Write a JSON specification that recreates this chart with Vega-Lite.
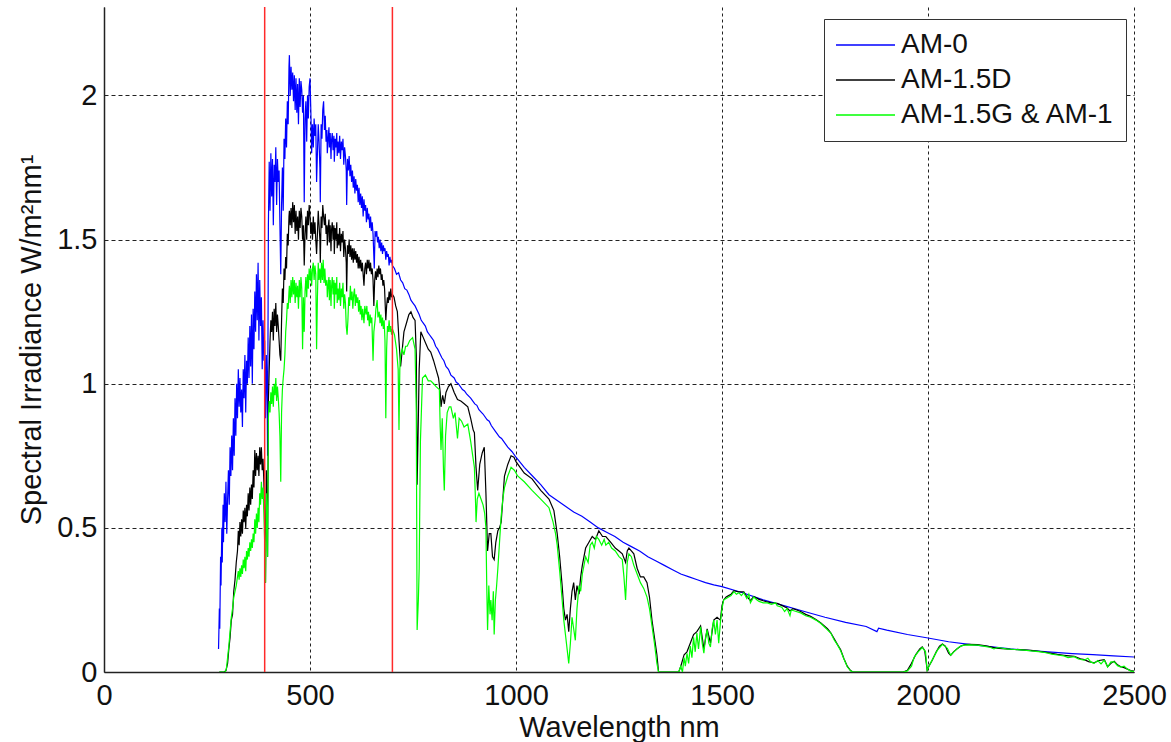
{
  "$schema": "https://vega.github.io/schema/vega-lite/v6.json",
  "width": 1030,
  "height": 665,
  "autosize": {"type": "none"},
  "padding": {"left": 104, "top": 7, "right": 37, "bottom": 70},
  "background": "white",
  "config": {"view": {"stroke": null}, "font": "Liberation Sans"},
  "encoding": {
    "x": {
      "field": "w", "type": "quantitative",
      "scale": {"domain": [0, 2500], "nice": false, "zero": false},
      "axis": {
        "values": [0, 500, 1000, 1500, 2000, 2500], "format": "d",
        "title": "Wavelength nm", "grid": true, "gridDash": [3, 3], "gridColor": "#222", "gridOpacity": 1, "gridWidth": 1,
        "domainColor": "#222", "domainWidth": 1.5, "ticks": false,
        "labelFontSize": 29, "labelPadding": 9, "labelColor": "#111", "labelFlush": false, "labelOverlap": false,
        "titleFontSize": 29, "titleFontWeight": "normal", "titlePadding": 3, "titleColor": "#111"
      }
    }
  },
  "layer": [
    {
      "data": {"values": [
{"s":"AM-0","w":278,"v":0.08},{"s":"AM-0","w":280,"v":0.22},{"s":"AM-0","w":281,"v":0.15},{"s":"AM-0","w":283,"v":0.40},{"s":"AM-0","w":284,"v":0.30},{"s":"AM-0","w":286,"v":0.50},{"s":"AM-0","w":287,"v":0.38},{"s":"AM-0","w":289,"v":0.58},{"s":"AM-0","w":290,"v":0.45},{"s":"AM-0","w":292,"v":0.62},{"s":"AM-0","w":294,"v":0.52},{"s":"AM-0","w":296,"v":0.66},{"s":"AM-0","w":298,"v":0.48},{"s":"AM-0","w":300,"v":0.60},{"s":"AM-0","w":302,"v":0.70},{"s":"AM-0","w":304,"v":0.58},{"s":"AM-0","w":306,"v":0.78},{"s":"AM-0","w":308,"v":0.68},{"s":"AM-0","w":310,"v":0.82},{"s":"AM-0","w":312,"v":0.70},{"s":"AM-0","w":314,"v":0.88},{"s":"AM-0","w":316,"v":0.75},{"s":"AM-0","w":318,"v":0.95},{"s":"AM-0","w":320,"v":0.82},{"s":"AM-0","w":322,"v":1.00},{"s":"AM-0","w":324,"v":0.88},{"s":"AM-0","w":326,"v":1.05},{"s":"AM-0","w":328,"v":0.92},{"s":"AM-0","w":330,"v":1.02},{"s":"AM-0","w":332,"v":0.90},{"s":"AM-0","w":334,"v":0.98},{"s":"AM-0","w":336,"v":0.85},{"s":"AM-0","w":338,"v":1.05},{"s":"AM-0","w":340,"v":0.95},{"s":"AM-0","w":342,"v":1.10},{"s":"AM-0","w":344,"v":0.90},{"s":"AM-0","w":346,"v":1.08},{"s":"AM-0","w":348,"v":1.00},{"s":"AM-0","w":350,"v":1.16},{"s":"AM-0","w":352,"v":1.02},{"s":"AM-0","w":354,"v":1.20},{"s":"AM-0","w":356,"v":1.06},{"s":"AM-0","w":358,"v":1.24},{"s":"AM-0","w":360,"v":1.00},{"s":"AM-0","w":362,"v":1.26},{"s":"AM-0","w":364,"v":1.12},{"s":"AM-0","w":366,"v":1.32},{"s":"AM-0","w":368,"v":1.18},{"s":"AM-0","w":370,"v":1.38},{"s":"AM-0","w":372,"v":1.22},{"s":"AM-0","w":374,"v":1.42},{"s":"AM-0","w":376,"v":1.15},{"s":"AM-0","w":378,"v":1.36},{"s":"AM-0","w":380,"v":1.20},{"s":"AM-0","w":382,"v":1.30},{"s":"AM-0","w":384,"v":1.05},{"s":"AM-0","w":386,"v":1.22},{"s":"AM-0","w":388,"v":1.08},{"s":"AM-0","w":390,"v":1.15},{"s":"AM-0","w":392,"v":0.88},{"s":"AM-0","w":394,"v":1.10},{"s":"AM-0","w":396,"v":0.95},{"s":"AM-0","w":397,"v":0.75},{"s":"AM-0","w":399,"v":1.55},{"s":"AM-0","w":401,"v":1.77},{"s":"AM-0","w":403,"v":1.60},{"s":"AM-0","w":405,"v":1.80},{"s":"AM-0","w":407,"v":1.65},{"s":"AM-0","w":409,"v":1.78},{"s":"AM-0","w":411,"v":1.55},{"s":"AM-0","w":413,"v":1.76},{"s":"AM-0","w":415,"v":1.70},{"s":"AM-0","w":417,"v":1.82},{"s":"AM-0","w":419,"v":1.62},{"s":"AM-0","w":421,"v":1.78},{"s":"AM-0","w":423,"v":1.70},{"s":"AM-0","w":425,"v":1.74},{"s":"AM-0","w":427,"v":1.55},{"s":"AM-0","w":429,"v":1.38},{"s":"AM-0","w":431,"v":1.62},{"s":"AM-0","w":433,"v":1.75},{"s":"AM-0","w":435,"v":1.60},{"s":"AM-0","w":437,"v":1.85},{"s":"AM-0","w":439,"v":1.78},{"s":"AM-0","w":441,"v":1.92},{"s":"AM-0","w":443,"v":1.82},{"s":"AM-0","w":445,"v":1.98},{"s":"AM-0","w":447,"v":1.90},{"s":"AM-0","w":449,"v":2.10},{"s":"AM-0","w":450,"v":2.14},{"s":"AM-0","w":452,"v":2.00},{"s":"AM-0","w":454,"v":2.10},{"s":"AM-0","w":456,"v":2.02},{"s":"AM-0","w":458,"v":2.08},{"s":"AM-0","w":460,"v":1.98},{"s":"AM-0","w":462,"v":2.07},{"s":"AM-0","w":464,"v":1.95},{"s":"AM-0","w":466,"v":2.06},{"s":"AM-0","w":468,"v":1.94},{"s":"AM-0","w":470,"v":2.04},{"s":"AM-0","w":472,"v":1.90},{"s":"AM-0","w":474,"v":2.06},{"s":"AM-0","w":476,"v":1.96},{"s":"AM-0","w":478,"v":2.05},{"s":"AM-0","w":480,"v":2.02},{"s":"AM-0","w":482,"v":1.94},{"s":"AM-0","w":484,"v":2.00},{"s":"AM-0","w":486,"v":1.63},{"s":"AM-0","w":488,"v":1.92},{"s":"AM-0","w":490,"v":1.98},{"s":"AM-0","w":492,"v":1.84},{"s":"AM-0","w":494,"v":2.00},{"s":"AM-0","w":496,"v":1.92},{"s":"AM-0","w":498,"v":2.03},{"s":"AM-0","w":500,"v":2.06},{"s":"AM-0","w":502,"v":1.95},{"s":"AM-0","w":504,"v":1.80},{"s":"AM-0","w":506,"v":1.90},{"s":"AM-0","w":508,"v":1.82},{"s":"AM-0","w":510,"v":1.92},{"s":"AM-0","w":512,"v":1.86},{"s":"AM-0","w":514,"v":1.90},{"s":"AM-0","w":516,"v":1.70},{"s":"AM-0","w":518,"v":1.80},{"s":"AM-0","w":520,"v":1.90},{"s":"AM-0","w":522,"v":1.84},{"s":"AM-0","w":524,"v":1.75},{"s":"AM-0","w":525,"v":1.63},{"s":"AM-0","w":527,"v":1.90},{"s":"AM-0","w":529,"v":1.85},{"s":"AM-0","w":531,"v":1.95},{"s":"AM-0","w":533,"v":1.98},{"s":"AM-0","w":535,"v":1.88},{"s":"AM-0","w":537,"v":1.93},{"s":"AM-0","w":539,"v":1.84},
{"s":"AM-0","w":541,"v":1.88},{"s":"AM-0","w":542,"v":1.80},{"s":"AM-0","w":544,"v":1.85},{"s":"AM-0","w":546,"v":1.89},{"s":"AM-0","w":547,"v":1.82},{"s":"AM-0","w":549,"v":1.87},{"s":"AM-0","w":551,"v":1.78},{"s":"AM-0","w":552,"v":1.84},{"s":"AM-0","w":554,"v":1.87},{"s":"AM-0","w":556,"v":1.81},{"s":"AM-0","w":558,"v":1.86},{"s":"AM-0","w":559,"v":1.77},{"s":"AM-0","w":561,"v":1.85},{"s":"AM-0","w":563,"v":1.82},{"s":"AM-0","w":565,"v":1.87},{"s":"AM-0","w":566,"v":1.79},{"s":"AM-0","w":568,"v":1.84},{"s":"AM-0","w":570,"v":1.80},{"s":"AM-0","w":572,"v":1.86},{"s":"AM-0","w":574,"v":1.78},{"s":"AM-0","w":576,"v":1.84},{"s":"AM-0","w":578,"v":1.81},{"s":"AM-0","w":580,"v":1.85},{"s":"AM-0","w":582,"v":1.76},{"s":"AM-0","w":584,"v":1.82},{"s":"AM-0","w":586,"v":1.79},{"s":"AM-0","w":588,"v":1.74},{"s":"AM-0","w":589,"v":1.62},{"s":"AM-0","w":591,"v":1.78},{"s":"AM-0","w":593,"v":1.74},{"s":"AM-0","w":595,"v":1.79},{"s":"AM-0","w":597,"v":1.72},{"s":"AM-0","w":599,"v":1.76},{"s":"AM-0","w":601,"v":1.70},{"s":"AM-0","w":603,"v":1.74},{"s":"AM-0","w":605,"v":1.68},{"s":"AM-0","w":607,"v":1.72},{"s":"AM-0","w":609,"v":1.66},{"s":"AM-0","w":611,"v":1.71},{"s":"AM-0","w":613,"v":1.67},{"s":"AM-0","w":615,"v":1.69},{"s":"AM-0","w":617,"v":1.63},{"s":"AM-0","w":619,"v":1.68},{"s":"AM-0","w":621,"v":1.62},{"s":"AM-0","w":623,"v":1.66},{"s":"AM-0","w":625,"v":1.61},{"s":"AM-0","w":627,"v":1.65},{"s":"AM-0","w":629,"v":1.58},{"s":"AM-0","w":631,"v":1.64},{"s":"AM-0","w":633,"v":1.60},{"s":"AM-0","w":635,"v":1.62},{"s":"AM-0","w":637,"v":1.56},{"s":"AM-0","w":639,"v":1.61},{"s":"AM-0","w":641,"v":1.57},{"s":"AM-0","w":643,"v":1.59},{"s":"AM-0","w":645,"v":1.54},{"s":"AM-0","w":647,"v":1.58},{"s":"AM-0","w":649,"v":1.53},{"s":"AM-0","w":651,"v":1.56},{"s":"AM-0","w":653,"v":1.52},{"s":"AM-0","w":656,"v":1.40},{"s":"AM-0","w":658,"v":1.53},{"s":"AM-0","w":660,"v":1.51},{"s":"AM-0","w":662,"v":1.53},{"s":"AM-0","w":664,"v":1.49},{"s":"AM-0","w":666,"v":1.51},{"s":"AM-0","w":668,"v":1.47},{"s":"AM-0","w":670,"v":1.50},{"s":"AM-0","w":672,"v":1.46},{"s":"AM-0","w":674,"v":1.49},{"s":"AM-0","w":676,"v":1.45},{"s":"AM-0","w":678,"v":1.48},{"s":"AM-0","w":680,"v":1.46},{"s":"AM-0","w":682,"v":1.47},{"s":"AM-0","w":684,"v":1.43},{"s":"AM-0","w":686,"v":1.46},{"s":"AM-0","w":688,"v":1.44},{"s":"AM-0","w":690,"v":1.45},{"s":"AM-0","w":692,"v":1.41},{"s":"AM-0","w":694,"v":1.44},{"s":"AM-0","w":696,"v":1.42},{"s":"AM-0","w":698,"v":1.43},{"s":"AM-0","w":700,"v":1.41},{"s":"AM-0","w":705,"v":1.40},{"s":"AM-0","w":710,"v":1.38},{"s":"AM-0","w":715,"v":1.385},{"s":"AM-0","w":720,"v":1.36},{"s":"AM-0","w":725,"v":1.35},{"s":"AM-0","w":730,"v":1.33},{"s":"AM-0","w":735,"v":1.325},{"s":"AM-0","w":740,"v":1.31},{"s":"AM-0","w":745,"v":1.29},{"s":"AM-0","w":750,"v":1.28},{"s":"AM-0","w":755,"v":1.27},{"s":"AM-0","w":760,"v":1.255},{"s":"AM-0","w":765,"v":1.24},{"s":"AM-0","w":770,"v":1.22},{"s":"AM-0","w":775,"v":1.21},{"s":"AM-0","w":780,"v":1.20},{"s":"AM-0","w":785,"v":1.18},{"s":"AM-0","w":790,"v":1.17},{"s":"AM-0","w":795,"v":1.16},{"s":"AM-0","w":800,"v":1.15},{"s":"AM-0","w":805,"v":1.13},{"s":"AM-0","w":810,"v":1.12},{"s":"AM-0","w":815,"v":1.105},{"s":"AM-0","w":820,"v":1.09},{"s":"AM-0","w":825,"v":1.08},{"s":"AM-0","w":830,"v":1.06},{"s":"AM-0","w":836,"v":1.05},{"s":"AM-0","w":842,"v":1.03},{"s":"AM-0","w":850,"v":1.02},{"s":"AM-0","w":855,"v":1.005},{"s":"AM-0","w":860,"v":1.00},{"s":"AM-0","w":870,"v":0.98},{"s":"AM-0","w":875,"v":0.975},{"s":"AM-0","w":880,"v":0.965},{"s":"AM-0","w":890,"v":0.95},{"s":"AM-0","w":900,"v":0.93},{"s":"AM-0","w":905,"v":0.925},{"s":"AM-0","w":910,"v":0.91},{"s":"AM-0","w":920,"v":0.895},{"s":"AM-0","w":930,"v":0.875},{"s":"AM-0","w":935,"v":0.87},{"s":"AM-0","w":940,"v":0.855},{"s":"AM-0","w":950,"v":0.835},{"s":"AM-0","w":960,"v":0.815},{"s":"AM-0","w":965,"v":0.81},{"s":"AM-0","w":970,"v":0.80},{"s":"AM-0","w":980,"v":0.78},{"s":"AM-0","w":990,"v":0.765},{"s":"AM-0","w":1000,"v":0.745},{"s":"AM-0","w":1020,"v":0.71},{"s":"AM-0","w":1040,"v":0.68},{"s":"AM-0","w":1060,"v":0.65},{"s":"AM-0","w":1080,"v":0.615},{"s":"AM-0","w":1100,"v":0.595},{"s":"AM-0","w":1120,"v":0.575},{"s":"AM-0","w":1140,"v":0.555},{"s":"AM-0","w":1160,"v":0.54},{"s":"AM-0","w":1180,"v":0.52},{"s":"AM-0","w":1200,"v":0.50},{"s":"AM-0","w":1220,"v":0.485},{"s":"AM-0","w":1240,"v":0.47},{"s":"AM-0","w":1260,"v":0.45},{"s":"AM-0","w":1280,"v":0.435},{"s":"AM-0","w":1300,"v":0.42},{"s":"AM-0","w":1320,"v":0.40},{"s":"AM-0","w":1340,"v":0.385},{"s":"AM-0","w":1360,"v":0.37},{"s":"AM-0","w":1380,"v":0.355},{"s":"AM-0","w":1400,"v":0.34},{"s":"AM-0","w":1420,"v":0.33},{"s":"AM-0","w":1440,"v":0.32},{"s":"AM-0","w":1460,"v":0.31},{"s":"AM-0","w":1480,"v":0.302},{"s":"AM-0","w":1500,"v":0.296},{"s":"AM-0","w":1550,"v":0.275},{"s":"AM-0","w":1600,"v":0.25},{"s":"AM-0","w":1650,"v":0.23},{"s":"AM-0","w":1700,"v":0.21},{"s":"AM-0","w":1750,"v":0.19},{"s":"AM-0","w":1800,"v":0.172},{"s":"AM-0","w":1850,"v":0.158},{"s":"AM-0","w":1876,"v":0.14},{"s":"AM-0","w":1880,"v":0.152},{"s":"AM-0","w":1900,"v":0.145},{"s":"AM-0","w":1950,"v":0.13},{"s":"AM-0","w":2000,"v":0.118},{"s":"AM-0","w":2050,"v":0.105},{"s":"AM-0","w":2100,"v":0.096},{"s":"AM-0","w":2150,"v":0.088},{"s":"AM-0","w":2200,"v":0.08},{"s":"AM-0","w":2250,"v":0.074},{"s":"AM-0","w":2300,"v":0.069},{"s":"AM-0","w":2350,"v":0.064},{"s":"AM-0","w":2400,"v":0.06},{"s":"AM-0","w":2450,"v":0.056},{"s":"AM-0","w":2500,"v":0.052},
{"s":"AM-1.5D","w":280,"v":0},{"s":"AM-1.5D","w":292,"v":0},{"s":"AM-1.5D","w":296,"v":0.005},{"s":"AM-1.5D","w":300,"v":0.03},{"s":"AM-1.5D","w":303,"v":0.08},{"s":"AM-1.5D","w":306,"v":0.12},{"s":"AM-1.5D","w":309,"v":0.18},{"s":"AM-1.5D","w":312,"v":0.20},{"s":"AM-1.5D","w":315,"v":0.28},{"s":"AM-1.5D","w":318,"v":0.32},{"s":"AM-1.5D","w":321,"v":0.38},{"s":"AM-1.5D","w":324,"v":0.42},{"s":"AM-1.5D","w":326,"v":0.49},{"s":"AM-1.5D","w":328,"v":0.44},{"s":"AM-1.5D","w":330,"v":0.52},{"s":"AM-1.5D","w":332,"v":0.47},{"s":"AM-1.5D","w":334,"v":0.53},{"s":"AM-1.5D","w":336,"v":0.48},{"s":"AM-1.5D","w":338,"v":0.56},{"s":"AM-1.5D","w":340,"v":0.52},{"s":"AM-1.5D","w":342,"v":0.57},{"s":"AM-1.5D","w":344,"v":0.50},{"s":"AM-1.5D","w":346,"v":0.58},{"s":"AM-1.5D","w":348,"v":0.54},{"s":"AM-1.5D","w":350,"v":0.62},{"s":"AM-1.5D","w":352,"v":0.56},{"s":"AM-1.5D","w":354,"v":0.64},{"s":"AM-1.5D","w":356,"v":0.58},{"s":"AM-1.5D","w":358,"v":0.65},{"s":"AM-1.5D","w":360,"v":0.60},{"s":"AM-1.5D","w":362,"v":0.70},{"s":"AM-1.5D","w":364,"v":0.64},{"s":"AM-1.5D","w":366,"v":0.77},{"s":"AM-1.5D","w":368,"v":0.68},{"s":"AM-1.5D","w":370,"v":0.76},{"s":"AM-1.5D","w":372,"v":0.70},{"s":"AM-1.5D","w":374,"v":0.75},{"s":"AM-1.5D","w":376,"v":0.68},{"s":"AM-1.5D","w":378,"v":0.78},{"s":"AM-1.5D","w":380,"v":0.72},{"s":"AM-1.5D","w":382,"v":0.78},{"s":"AM-1.5D","w":384,"v":0.70},{"s":"AM-1.5D","w":386,"v":0.74},{"s":"AM-1.5D","w":388,"v":0.66},{"s":"AM-1.5D","w":390,"v":0.55},{"s":"AM-1.5D","w":392,"v":0.31},{"s":"AM-1.5D","w":394,"v":0.70},{"s":"AM-1.5D","w":396,"v":0.55},{"s":"AM-1.5D","w":397,"v":0.40},{"s":"AM-1.5D","w":399,"v":0.94},{"s":"AM-1.5D","w":401,"v":1.05},{"s":"AM-1.5D","w":403,"v":1.15},{"s":"AM-1.5D","w":405,"v":1.22},{"s":"AM-1.5D","w":407,"v":1.18},{"s":"AM-1.5D","w":409,"v":1.25},{"s":"AM-1.5D","w":411,"v":1.15},{"s":"AM-1.5D","w":413,"v":1.26},{"s":"AM-1.5D","w":415,"v":1.20},{"s":"AM-1.5D","w":417,"v":1.28},{"s":"AM-1.5D","w":419,"v":1.18},{"s":"AM-1.5D","w":421,"v":1.24},{"s":"AM-1.5D","w":423,"v":1.20},{"s":"AM-1.5D","w":425,"v":1.15},{"s":"AM-1.5D","w":427,"v":1.10},{"s":"AM-1.5D","w":429,"v":1.08},{"s":"AM-1.5D","w":431,"v":1.22},{"s":"AM-1.5D","w":433,"v":1.33},{"s":"AM-1.5D","w":435,"v":1.28},{"s":"AM-1.5D","w":437,"v":1.40},{"s":"AM-1.5D","w":439,"v":1.36},{"s":"AM-1.5D","w":441,"v":1.44},{"s":"AM-1.5D","w":443,"v":1.40},{"s":"AM-1.5D","w":445,"v":1.52},{"s":"AM-1.5D","w":447,"v":1.48},{"s":"AM-1.5D","w":449,"v":1.58},{"s":"AM-1.5D","w":450,"v":1.60},{"s":"AM-1.5D","w":452,"v":1.55},{"s":"AM-1.5D","w":454,"v":1.61},{"s":"AM-1.5D","w":456,"v":1.54},{"s":"AM-1.5D","w":458,"v":1.63},{"s":"AM-1.5D","w":460,"v":1.56},{"s":"AM-1.5D","w":462,"v":1.62},{"s":"AM-1.5D","w":464,"v":1.52},{"s":"AM-1.5D","w":466,"v":1.60},{"s":"AM-1.5D","w":468,"v":1.53},{"s":"AM-1.5D","w":470,"v":1.58},{"s":"AM-1.5D","w":472,"v":1.50},{"s":"AM-1.5D","w":474,"v":1.60},{"s":"AM-1.5D","w":476,"v":1.54},{"s":"AM-1.5D","w":478,"v":1.61},{"s":"AM-1.5D","w":480,"v":1.58},{"s":"AM-1.5D","w":482,"v":1.50},{"s":"AM-1.5D","w":484,"v":1.55},{"s":"AM-1.5D","w":486,"v":1.41},{"s":"AM-1.5D","w":488,"v":1.52},{"s":"AM-1.5D","w":490,"v":1.58},{"s":"AM-1.5D","w":492,"v":1.50},{"s":"AM-1.5D","w":494,"v":1.60},{"s":"AM-1.5D","w":496,"v":1.55},{"s":"AM-1.5D","w":498,"v":1.62},{"s":"AM-1.5D","w":500,"v":1.58},{"s":"AM-1.5D","w":502,"v":1.52},{"s":"AM-1.5D","w":504,"v":1.56},{"s":"AM-1.5D","w":506,"v":1.50},{"s":"AM-1.5D","w":508,"v":1.58},{"s":"AM-1.5D","w":510,"v":1.52},{"s":"AM-1.5D","w":512,"v":1.56},{"s":"AM-1.5D","w":514,"v":1.50},{"s":"AM-1.5D","w":516,"v":1.45},{"s":"AM-1.5D","w":518,"v":1.52},{"s":"AM-1.5D","w":520,"v":1.60},{"s":"AM-1.5D","w":522,"v":1.55},{"s":"AM-1.5D","w":524,"v":1.50},{"s":"AM-1.5D","w":525,"v":1.42},{"s":"AM-1.5D","w":527,"v":1.58},{"s":"AM-1.5D","w":529,"v":1.54},{"s":"AM-1.5D","w":531,"v":1.62},{"s":"AM-1.5D","w":533,"v":1.58},{"s":"AM-1.5D","w":535,"v":1.55},{"s":"AM-1.5D","w":537,"v":1.59},{"s":"AM-1.5D","w":539,"v":1.52},
{"s":"AM-1.5D","w":541,"v":1.55},{"s":"AM-1.5D","w":542,"v":1.48},{"s":"AM-1.5D","w":544,"v":1.54},{"s":"AM-1.5D","w":546,"v":1.57},{"s":"AM-1.5D","w":547,"v":1.49},{"s":"AM-1.5D","w":549,"v":1.55},{"s":"AM-1.5D","w":551,"v":1.46},{"s":"AM-1.5D","w":552,"v":1.53},{"s":"AM-1.5D","w":554,"v":1.56},{"s":"AM-1.5D","w":556,"v":1.50},{"s":"AM-1.5D","w":558,"v":1.55},{"s":"AM-1.5D","w":559,"v":1.45},{"s":"AM-1.5D","w":561,"v":1.54},{"s":"AM-1.5D","w":563,"v":1.50},{"s":"AM-1.5D","w":565,"v":1.56},{"s":"AM-1.5D","w":566,"v":1.47},{"s":"AM-1.5D","w":568,"v":1.52},{"s":"AM-1.5D","w":570,"v":1.48},{"s":"AM-1.5D","w":572,"v":1.54},{"s":"AM-1.5D","w":574,"v":1.46},{"s":"AM-1.5D","w":576,"v":1.52},{"s":"AM-1.5D","w":578,"v":1.49},{"s":"AM-1.5D","w":580,"v":1.53},{"s":"AM-1.5D","w":582,"v":1.44},{"s":"AM-1.5D","w":584,"v":1.50},{"s":"AM-1.5D","w":586,"v":1.47},{"s":"AM-1.5D","w":588,"v":1.42},{"s":"AM-1.5D","w":589,"v":1.32},{"s":"AM-1.5D","w":591,"v":1.48},{"s":"AM-1.5D","w":593,"v":1.45},{"s":"AM-1.5D","w":595,"v":1.50},{"s":"AM-1.5D","w":597,"v":1.44},{"s":"AM-1.5D","w":599,"v":1.48},{"s":"AM-1.5D","w":601,"v":1.43},{"s":"AM-1.5D","w":603,"v":1.47},{"s":"AM-1.5D","w":605,"v":1.42},{"s":"AM-1.5D","w":607,"v":1.47},{"s":"AM-1.5D","w":609,"v":1.43},{"s":"AM-1.5D","w":611,"v":1.46},{"s":"AM-1.5D","w":613,"v":1.42},{"s":"AM-1.5D","w":615,"v":1.45},{"s":"AM-1.5D","w":617,"v":1.40},{"s":"AM-1.5D","w":619,"v":1.44},{"s":"AM-1.5D","w":621,"v":1.40},{"s":"AM-1.5D","w":623,"v":1.43},{"s":"AM-1.5D","w":625,"v":1.39},{"s":"AM-1.5D","w":627,"v":1.42},{"s":"AM-1.5D","w":629,"v":1.38},{"s":"AM-1.5D","w":631,"v":1.34},{"s":"AM-1.5D","w":633,"v":1.40},{"s":"AM-1.5D","w":635,"v":1.42},{"s":"AM-1.5D","w":637,"v":1.38},{"s":"AM-1.5D","w":639,"v":1.43},{"s":"AM-1.5D","w":641,"v":1.40},{"s":"AM-1.5D","w":643,"v":1.43},{"s":"AM-1.5D","w":645,"v":1.39},{"s":"AM-1.5D","w":647,"v":1.42},{"s":"AM-1.5D","w":649,"v":1.38},{"s":"AM-1.5D","w":651,"v":1.40},{"s":"AM-1.5D","w":653,"v":1.36},{"s":"AM-1.5D","w":655,"v":1.27},{"s":"AM-1.5D","w":657,"v":1.36},{"s":"AM-1.5D","w":659,"v":1.39},{"s":"AM-1.5D","w":661,"v":1.36},{"s":"AM-1.5D","w":663,"v":1.40},{"s":"AM-1.5D","w":665,"v":1.37},{"s":"AM-1.5D","w":667,"v":1.41},{"s":"AM-1.5D","w":669,"v":1.38},{"s":"AM-1.5D","w":671,"v":1.40},{"s":"AM-1.5D","w":673,"v":1.36},{"s":"AM-1.5D","w":675,"v":1.38},{"s":"AM-1.5D","w":677,"v":1.34},{"s":"AM-1.5D","w":679,"v":1.36},{"s":"AM-1.5D","w":681,"v":1.33},{"s":"AM-1.5D","w":684,"v":1.22},{"s":"AM-1.5D","w":686,"v":1.27},{"s":"AM-1.5D","w":688,"v":1.30},{"s":"AM-1.5D","w":690,"v":1.28},{"s":"AM-1.5D","w":692,"v":1.32},{"s":"AM-1.5D","w":694,"v":1.29},{"s":"AM-1.5D","w":696,"v":1.33},{"s":"AM-1.5D","w":698,"v":1.30},{"s":"AM-1.5D","w":700,"v":1.31},{"s":"AM-1.5D","w":704,"v":1.30},{"s":"AM-1.5D","w":708,"v":1.27},{"s":"AM-1.5D","w":712,"v":1.25},{"s":"AM-1.5D","w":716,"v":1.15},{"s":"AM-1.5D","w":720,"v":1.06},{"s":"AM-1.5D","w":724,"v":1.12},{"s":"AM-1.5D","w":728,"v":1.18},{"s":"AM-1.5D","w":734,"v":1.21},{"s":"AM-1.5D","w":740,"v":1.24},{"s":"AM-1.5D","w":745,"v":1.25},{"s":"AM-1.5D","w":750,"v":1.23},{"s":"AM-1.5D","w":755,"v":1.22},{"s":"AM-1.5D","w":758,"v":1.10},{"s":"AM-1.5D","w":760,"v":0.65},{"s":"AM-1.5D","w":762,"v":0.80},{"s":"AM-1.5D","w":765,"v":1.05},{"s":"AM-1.5D","w":769,"v":1.18},{"s":"AM-1.5D","w":775,"v":1.16},{"s":"AM-1.5D","w":781,"v":1.14},{"s":"AM-1.5D","w":787,"v":1.12},{"s":"AM-1.5D","w":793,"v":1.11},{"s":"AM-1.5D","w":800,"v":1.08},{"s":"AM-1.5D","w":806,"v":1.05},{"s":"AM-1.5D","w":812,"v":1.02},{"s":"AM-1.5D","w":816,"v":0.97},{"s":"AM-1.5D","w":818,"v":0.92},{"s":"AM-1.5D","w":822,"v":0.96},{"s":"AM-1.5D","w":826,"v":0.93},{"s":"AM-1.5D","w":830,"v":0.97},{"s":"AM-1.5D","w":836,"v":0.99},{"s":"AM-1.5D","w":842,"v":1.00},{"s":"AM-1.5D","w":850,"v":0.97},{"s":"AM-1.5D","w":858,"v":0.945},{"s":"AM-1.5D","w":866,"v":0.94},{"s":"AM-1.5D","w":875,"v":0.93},{"s":"AM-1.5D","w":883,"v":0.92},{"s":"AM-1.5D","w":890,"v":0.88},{"s":"AM-1.5D","w":896,"v":0.84},{"s":"AM-1.5D","w":899,"v":0.83},{"s":"AM-1.5D","w":903,"v":0.71},{"s":"AM-1.5D","w":907,"v":0.63},{"s":"AM-1.5D","w":912,"v":0.72},{"s":"AM-1.5D","w":918,"v":0.76},{"s":"AM-1.5D","w":923,"v":0.78},{"s":"AM-1.5D","w":927,"v":0.62},{"s":"AM-1.5D","w":931,"v":0.42},{"s":"AM-1.5D","w":935,"v":0.48},{"s":"AM-1.5D","w":939,"v":0.48},{"s":"AM-1.5D","w":943,"v":0.40},{"s":"AM-1.5D","w":947,"v":0.39},{"s":"AM-1.5D","w":951,"v":0.45},{"s":"AM-1.5D","w":956,"v":0.49},{"s":"AM-1.5D","w":960,"v":0.50},{"s":"AM-1.5D","w":964,"v":0.52},{"s":"AM-1.5D","w":968,"v":0.60},{"s":"AM-1.5D","w":972,"v":0.68},{"s":"AM-1.5D","w":980,"v":0.72},{"s":"AM-1.5D","w":988,"v":0.75},{"s":"AM-1.5D","w":995,"v":0.745},{"s":"AM-1.5D","w":1000,"v":0.73},{"s":"AM-1.5D","w":1010,"v":0.71},{"s":"AM-1.5D","w":1020,"v":0.69},{"s":"AM-1.5D","w":1039,"v":0.67},{"s":"AM-1.5D","w":1060,"v":0.63},{"s":"AM-1.5D","w":1080,"v":0.60},{"s":"AM-1.5D","w":1092,"v":0.56},{"s":"AM-1.5D","w":1100,"v":0.48},{"s":"AM-1.5D","w":1106,"v":0.40},{"s":"AM-1.5D","w":1112,"v":0.30},{"s":"AM-1.5D","w":1116,"v":0.22},{"s":"AM-1.5D","w":1120,"v":0.18},{"s":"AM-1.5D","w":1124,"v":0.20},{"s":"AM-1.5D","w":1128,"v":0.14},{"s":"AM-1.5D","w":1132,"v":0.22},{"s":"AM-1.5D","w":1136,"v":0.28},{"s":"AM-1.5D","w":1140,"v":0.31},{"s":"AM-1.5D","w":1144,"v":0.25},{"s":"AM-1.5D","w":1148,"v":0.30},{"s":"AM-1.5D","w":1153,"v":0.27},{"s":"AM-1.5D","w":1157,"v":0.33},{"s":"AM-1.5D","w":1161,"v":0.37},{"s":"AM-1.5D","w":1165,"v":0.40},{"s":"AM-1.5D","w":1169,"v":0.43},{"s":"AM-1.5D","w":1177,"v":0.45},{"s":"AM-1.5D","w":1185,"v":0.47},{"s":"AM-1.5D","w":1193,"v":0.46},{"s":"AM-1.5D","w":1201,"v":0.49},{"s":"AM-1.5D","w":1210,"v":0.47},{"s":"AM-1.5D","w":1218,"v":0.47},{"s":"AM-1.5D","w":1230,"v":0.45},{"s":"AM-1.5D","w":1241,"v":0.43},{"s":"AM-1.5D","w":1250,"v":0.42},{"s":"AM-1.5D","w":1258,"v":0.41},{"s":"AM-1.5D","w":1266,"v":0.38},{"s":"AM-1.5D","w":1270,"v":0.42},{"s":"AM-1.5D","w":1274,"v":0.43},{"s":"AM-1.5D","w":1280,"v":0.42},{"s":"AM-1.5D","w":1286,"v":0.41},{"s":"AM-1.5D","w":1294,"v":0.36},{"s":"AM-1.5D","w":1302,"v":0.33},{"s":"AM-1.5D","w":1310,"v":0.33},{"s":"AM-1.5D","w":1318,"v":0.31},{"s":"AM-1.5D","w":1324,"v":0.26},{"s":"AM-1.5D","w":1330,"v":0.18},{"s":"AM-1.5D","w":1336,"v":0.12},{"s":"AM-1.5D","w":1342,"v":0.06},{"s":"AM-1.5D","w":1346,"v":0},{"s":"AM-1.5D","w":1395,"v":0},{"s":"AM-1.5D","w":1400,"v":0.02},{"s":"AM-1.5D","w":1408,"v":0.06},{"s":"AM-1.5D","w":1415,"v":0.07},{"s":"AM-1.5D","w":1423,"v":0.10},{"s":"AM-1.5D","w":1431,"v":0.13},{"s":"AM-1.5D","w":1439,"v":0.14},{"s":"AM-1.5D","w":1448,"v":0.16},{"s":"AM-1.5D","w":1456,"v":0.08},{"s":"AM-1.5D","w":1464,"v":0.15},{"s":"AM-1.5D","w":1472,"v":0.10},{"s":"AM-1.5D","w":1480,"v":0.18},{"s":"AM-1.5D","w":1488,"v":0.19},{"s":"AM-1.5D","w":1496,"v":0.18},{"s":"AM-1.5D","w":1500,"v":0.23},{"s":"AM-1.5D","w":1504,"v":0.25},{"s":"AM-1.5D","w":1510,"v":0.26},{"s":"AM-1.5D","w":1516,"v":0.265},{"s":"AM-1.5D","w":1522,"v":0.27},{"s":"AM-1.5D","w":1529,"v":0.282},{"s":"AM-1.5D","w":1540,"v":0.278},{"s":"AM-1.5D","w":1553,"v":0.278},{"s":"AM-1.5D","w":1560,"v":0.262},{"s":"AM-1.5D","w":1569,"v":0.248},{"s":"AM-1.5D","w":1577,"v":0.262},{"s":"AM-1.5D","w":1590,"v":0.252},{"s":"AM-1.5D","w":1600,"v":0.247},{"s":"AM-1.5D","w":1610,"v":0.243},{"s":"AM-1.5D","w":1620,"v":0.24},{"s":"AM-1.5D","w":1634,"v":0.238},{"s":"AM-1.5D","w":1645,"v":0.231},{"s":"AM-1.5D","w":1658,"v":0.222},{"s":"AM-1.5D","w":1665,"v":0.212},{"s":"AM-1.5D","w":1672,"v":0.22},{"s":"AM-1.5D","w":1680,"v":0.216},{"s":"AM-1.5D","w":1691,"v":0.21},{"s":"AM-1.5D","w":1703,"v":0.2},{"s":"AM-1.5D","w":1715,"v":0.193},{"s":"AM-1.5D","w":1728,"v":0.182},{"s":"AM-1.5D","w":1740,"v":0.17},{"s":"AM-1.5D","w":1756,"v":0.15},{"s":"AM-1.5D","w":1764,"v":0.136},{"s":"AM-1.5D","w":1772,"v":0.116},{"s":"AM-1.5D","w":1780,"v":0.096},{"s":"AM-1.5D","w":1788,"v":0.077},{"s":"AM-1.5D","w":1796,"v":0.046},{"s":"AM-1.5D","w":1804,"v":0.02},{"s":"AM-1.5D","w":1812,"v":0.005},{"s":"AM-1.5D","w":1818,"v":0},{"s":"AM-1.5D","w":1940,"v":0},{"s":"AM-1.5D","w":1950,"v":0.006},{"s":"AM-1.5D","w":1960,"v":0.03},{"s":"AM-1.5D","w":1970,"v":0.06},{"s":"AM-1.5D","w":1980,"v":0.08},{"s":"AM-1.5D","w":1986,"v":0.087},{"s":"AM-1.5D","w":1992,"v":0.075},{"s":"AM-1.5D","w":1996,"v":0.03},{"s":"AM-1.5D","w":1998,"v":0.006},{"s":"AM-1.5D","w":2002,"v":0.02},{"s":"AM-1.5D","w":2010,"v":0.04},{"s":"AM-1.5D","w":2020,"v":0.07},{"s":"AM-1.5D","w":2028,"v":0.09},{"s":"AM-1.5D","w":2035,"v":0.097},{"s":"AM-1.5D","w":2042,"v":0.09},{"s":"AM-1.5D","w":2050,"v":0.065},{"s":"AM-1.5D","w":2055,"v":0.058},{"s":"AM-1.5D","w":2062,"v":0.07},{"s":"AM-1.5D","w":2070,"v":0.08},{"s":"AM-1.5D","w":2080,"v":0.09},{"s":"AM-1.5D","w":2090,"v":0.095},{"s":"AM-1.5D","w":2100,"v":0.096},{"s":"AM-1.5D","w":2120,"v":0.095},{"s":"AM-1.5D","w":2140,"v":0.091},{"s":"AM-1.5D","w":2152,"v":0.087},{"s":"AM-1.5D","w":2165,"v":0.083},{"s":"AM-1.5D","w":2180,"v":0.081},{"s":"AM-1.5D","w":2200,"v":0.079},{"s":"AM-1.5D","w":2233,"v":0.077},{"s":"AM-1.5D","w":2250,"v":0.075},{"s":"AM-1.5D","w":2274,"v":0.071},{"s":"AM-1.5D","w":2290,"v":0.067},{"s":"AM-1.5D","w":2314,"v":0.061},{"s":"AM-1.5D","w":2330,"v":0.058},{"s":"AM-1.5D","w":2355,"v":0.054},{"s":"AM-1.5D","w":2370,"v":0.046},{"s":"AM-1.5D","w":2379,"v":0.043},{"s":"AM-1.5D","w":2390,"v":0.036},{"s":"AM-1.5D","w":2403,"v":0.032},{"s":"AM-1.5D","w":2415,"v":0.04},{"s":"AM-1.5D","w":2428,"v":0.043},{"s":"AM-1.5D","w":2436,"v":0.018},{"s":"AM-1.5D","w":2444,"v":0.03},{"s":"AM-1.5D","w":2452,"v":0.037},{"s":"AM-1.5D","w":2460,"v":0.025},{"s":"AM-1.5D","w":2468,"v":0.018},{"s":"AM-1.5D","w":2476,"v":0.015},{"s":"AM-1.5D","w":2484,"v":0.01},{"s":"AM-1.5D","w":2492,"v":0.005},{"s":"AM-1.5D","w":2500,"v":0.003},
{"s":"AM-1.5G & AM-1","w":280,"v":0},{"s":"AM-1.5G & AM-1","w":294,"v":0},{"s":"AM-1.5G & AM-1","w":297,"v":0.01},{"s":"AM-1.5G & AM-1","w":300,"v":0.05},{"s":"AM-1.5G & AM-1","w":303,"v":0.09},{"s":"AM-1.5G & AM-1","w":306,"v":0.14},{"s":"AM-1.5G & AM-1","w":309,"v":0.19},{"s":"AM-1.5G & AM-1","w":312,"v":0.22},{"s":"AM-1.5G & AM-1","w":315,"v":0.26},{"s":"AM-1.5G & AM-1","w":318,"v":0.28},{"s":"AM-1.5G & AM-1","w":321,"v":0.30},{"s":"AM-1.5G & AM-1","w":324,"v":0.33},{"s":"AM-1.5G & AM-1","w":326,"v":0.35},{"s":"AM-1.5G & AM-1","w":328,"v":0.32},{"s":"AM-1.5G & AM-1","w":330,"v":0.36},{"s":"AM-1.5G & AM-1","w":332,"v":0.33},{"s":"AM-1.5G & AM-1","w":334,"v":0.37},{"s":"AM-1.5G & AM-1","w":336,"v":0.34},{"s":"AM-1.5G & AM-1","w":338,"v":0.39},{"s":"AM-1.5G & AM-1","w":340,"v":0.36},{"s":"AM-1.5G & AM-1","w":342,"v":0.40},{"s":"AM-1.5G & AM-1","w":344,"v":0.35},{"s":"AM-1.5G & AM-1","w":346,"v":0.42},{"s":"AM-1.5G & AM-1","w":348,"v":0.39},{"s":"AM-1.5G & AM-1","w":350,"v":0.43},{"s":"AM-1.5G & AM-1","w":352,"v":0.40},{"s":"AM-1.5G & AM-1","w":354,"v":0.45},{"s":"AM-1.5G & AM-1","w":356,"v":0.42},{"s":"AM-1.5G & AM-1","w":358,"v":0.46},{"s":"AM-1.5G & AM-1","w":360,"v":0.43},{"s":"AM-1.5G & AM-1","w":362,"v":0.48},{"s":"AM-1.5G & AM-1","w":364,"v":0.45},{"s":"AM-1.5G & AM-1","w":366,"v":0.53},{"s":"AM-1.5G & AM-1","w":368,"v":0.48},{"s":"AM-1.5G & AM-1","w":370,"v":0.55},{"s":"AM-1.5G & AM-1","w":372,"v":0.50},{"s":"AM-1.5G & AM-1","w":374,"v":0.57},{"s":"AM-1.5G & AM-1","w":376,"v":0.52},{"s":"AM-1.5G & AM-1","w":378,"v":0.62},{"s":"AM-1.5G & AM-1","w":380,"v":0.58},{"s":"AM-1.5G & AM-1","w":382,"v":0.66},{"s":"AM-1.5G & AM-1","w":384,"v":0.60},{"s":"AM-1.5G & AM-1","w":386,"v":0.64},{"s":"AM-1.5G & AM-1","w":388,"v":0.55},{"s":"AM-1.5G & AM-1","w":390,"v":0.45},{"s":"AM-1.5G & AM-1","w":392,"v":0.31},{"s":"AM-1.5G & AM-1","w":394,"v":0.62},{"s":"AM-1.5G & AM-1","w":396,"v":0.50},{"s":"AM-1.5G & AM-1","w":397,"v":0.40},{"s":"AM-1.5G & AM-1","w":399,"v":0.88},{"s":"AM-1.5G & AM-1","w":401,"v":0.94},{"s":"AM-1.5G & AM-1","w":403,"v":0.90},{"s":"AM-1.5G & AM-1","w":405,"v":0.97},{"s":"AM-1.5G & AM-1","w":407,"v":0.93},{"s":"AM-1.5G & AM-1","w":409,"v":0.99},{"s":"AM-1.5G & AM-1","w":411,"v":0.92},{"s":"AM-1.5G & AM-1","w":413,"v":1.00},{"s":"AM-1.5G & AM-1","w":415,"v":0.96},{"s":"AM-1.5G & AM-1","w":417,"v":1.02},{"s":"AM-1.5G & AM-1","w":419,"v":0.94},{"s":"AM-1.5G & AM-1","w":421,"v":0.99},{"s":"AM-1.5G & AM-1","w":423,"v":0.95},{"s":"AM-1.5G & AM-1","w":425,"v":0.90},{"s":"AM-1.5G & AM-1","w":427,"v":0.82},{"s":"AM-1.5G & AM-1","w":429,"v":0.66},{"s":"AM-1.5G & AM-1","w":431,"v":0.90},{"s":"AM-1.5G & AM-1","w":433,"v":0.98},{"s":"AM-1.5G & AM-1","w":435,"v":1.02},{"s":"AM-1.5G & AM-1","w":437,"v":1.05},{"s":"AM-1.5G & AM-1","w":439,"v":1.10},{"s":"AM-1.5G & AM-1","w":441,"v":1.18},{"s":"AM-1.5G & AM-1","w":443,"v":1.22},{"s":"AM-1.5G & AM-1","w":445,"v":1.28},{"s":"AM-1.5G & AM-1","w":447,"v":1.26},{"s":"AM-1.5G & AM-1","w":449,"v":1.32},{"s":"AM-1.5G & AM-1","w":450,"v":1.34},{"s":"AM-1.5G & AM-1","w":452,"v":1.28},{"s":"AM-1.5G & AM-1","w":454,"v":1.36},{"s":"AM-1.5G & AM-1","w":456,"v":1.30},{"s":"AM-1.5G & AM-1","w":458,"v":1.37},{"s":"AM-1.5G & AM-1","w":460,"v":1.31},{"s":"AM-1.5G & AM-1","w":462,"v":1.36},{"s":"AM-1.5G & AM-1","w":464,"v":1.28},{"s":"AM-1.5G & AM-1","w":466,"v":1.35},{"s":"AM-1.5G & AM-1","w":468,"v":1.30},{"s":"AM-1.5G & AM-1","w":470,"v":1.34},{"s":"AM-1.5G & AM-1","w":472,"v":1.26},{"s":"AM-1.5G & AM-1","w":474,"v":1.36},{"s":"AM-1.5G & AM-1","w":476,"v":1.30},{"s":"AM-1.5G & AM-1","w":478,"v":1.37},{"s":"AM-1.5G & AM-1","w":480,"v":1.33},{"s":"AM-1.5G & AM-1","w":482,"v":1.12},{"s":"AM-1.5G & AM-1","w":484,"v":1.30},{"s":"AM-1.5G & AM-1","w":486,"v":1.18},{"s":"AM-1.5G & AM-1","w":488,"v":1.32},{"s":"AM-1.5G & AM-1","w":490,"v":1.37},{"s":"AM-1.5G & AM-1","w":492,"v":1.30},{"s":"AM-1.5G & AM-1","w":494,"v":1.38},{"s":"AM-1.5G & AM-1","w":496,"v":1.33},{"s":"AM-1.5G & AM-1","w":498,"v":1.40},{"s":"AM-1.5G & AM-1","w":500,"v":1.36},{"s":"AM-1.5G & AM-1","w":502,"v":1.40},{"s":"AM-1.5G & AM-1","w":504,"v":1.34},{"s":"AM-1.5G & AM-1","w":506,"v":1.40},{"s":"AM-1.5G & AM-1","w":508,"v":1.42},{"s":"AM-1.5G & AM-1","w":510,"v":1.36},{"s":"AM-1.5G & AM-1","w":512,"v":1.41},{"s":"AM-1.5G & AM-1","w":514,"v":1.38},{"s":"AM-1.5G & AM-1","w":516,"v":1.12},{"s":"AM-1.5G & AM-1","w":518,"v":1.30},{"s":"AM-1.5G & AM-1","w":520,"v":1.42},{"s":"AM-1.5G & AM-1","w":522,"v":1.36},{"s":"AM-1.5G & AM-1","w":524,"v":1.40},{"s":"AM-1.5G & AM-1","w":526,"v":1.35},{"s":"AM-1.5G & AM-1","w":528,"v":1.42},{"s":"AM-1.5G & AM-1","w":530,"v":1.36},{"s":"AM-1.5G & AM-1","w":532,"v":1.43},{"s":"AM-1.5G & AM-1","w":534,"v":1.35},{"s":"AM-1.5G & AM-1","w":536,"v":1.40},{"s":"AM-1.5G & AM-1","w":538,"v":1.34},
{"s":"AM-1.5G & AM-1","w":541,"v":1.36},{"s":"AM-1.5G & AM-1","w":542,"v":1.30},{"s":"AM-1.5G & AM-1","w":544,"v":1.34},{"s":"AM-1.5G & AM-1","w":546,"v":1.37},{"s":"AM-1.5G & AM-1","w":547,"v":1.29},{"s":"AM-1.5G & AM-1","w":549,"v":1.36},{"s":"AM-1.5G & AM-1","w":551,"v":1.27},{"s":"AM-1.5G & AM-1","w":552,"v":1.33},{"s":"AM-1.5G & AM-1","w":554,"v":1.37},{"s":"AM-1.5G & AM-1","w":556,"v":1.31},{"s":"AM-1.5G & AM-1","w":558,"v":1.36},{"s":"AM-1.5G & AM-1","w":559,"v":1.26},{"s":"AM-1.5G & AM-1","w":561,"v":1.35},{"s":"AM-1.5G & AM-1","w":563,"v":1.31},{"s":"AM-1.5G & AM-1","w":565,"v":1.37},{"s":"AM-1.5G & AM-1","w":566,"v":1.28},{"s":"AM-1.5G & AM-1","w":568,"v":1.33},{"s":"AM-1.5G & AM-1","w":570,"v":1.29},{"s":"AM-1.5G & AM-1","w":572,"v":1.35},{"s":"AM-1.5G & AM-1","w":574,"v":1.27},{"s":"AM-1.5G & AM-1","w":576,"v":1.33},{"s":"AM-1.5G & AM-1","w":578,"v":1.30},{"s":"AM-1.5G & AM-1","w":580,"v":1.35},{"s":"AM-1.5G & AM-1","w":582,"v":1.26},{"s":"AM-1.5G & AM-1","w":584,"v":1.31},{"s":"AM-1.5G & AM-1","w":586,"v":1.28},{"s":"AM-1.5G & AM-1","w":588,"v":1.20},{"s":"AM-1.5G & AM-1","w":590,"v":1.17},{"s":"AM-1.5G & AM-1","w":592,"v":1.22},{"s":"AM-1.5G & AM-1","w":594,"v":1.30},{"s":"AM-1.5G & AM-1","w":596,"v":1.27},{"s":"AM-1.5G & AM-1","w":598,"v":1.34},{"s":"AM-1.5G & AM-1","w":600,"v":1.29},{"s":"AM-1.5G & AM-1","w":602,"v":1.32},{"s":"AM-1.5G & AM-1","w":604,"v":1.26},{"s":"AM-1.5G & AM-1","w":606,"v":1.31},{"s":"AM-1.5G & AM-1","w":608,"v":1.33},{"s":"AM-1.5G & AM-1","w":610,"v":1.27},{"s":"AM-1.5G & AM-1","w":612,"v":1.31},{"s":"AM-1.5G & AM-1","w":614,"v":1.28},{"s":"AM-1.5G & AM-1","w":616,"v":1.30},{"s":"AM-1.5G & AM-1","w":618,"v":1.25},{"s":"AM-1.5G & AM-1","w":620,"v":1.29},{"s":"AM-1.5G & AM-1","w":622,"v":1.24},{"s":"AM-1.5G & AM-1","w":624,"v":1.27},{"s":"AM-1.5G & AM-1","w":626,"v":1.22},{"s":"AM-1.5G & AM-1","w":628,"v":1.26},{"s":"AM-1.5G & AM-1","w":631,"v":1.21},{"s":"AM-1.5G & AM-1","w":633,"v":1.27},{"s":"AM-1.5G & AM-1","w":636,"v":1.24},{"s":"AM-1.5G & AM-1","w":638,"v":1.27},{"s":"AM-1.5G & AM-1","w":640,"v":1.22},{"s":"AM-1.5G & AM-1","w":642,"v":1.25},{"s":"AM-1.5G & AM-1","w":644,"v":1.20},{"s":"AM-1.5G & AM-1","w":646,"v":1.24},{"s":"AM-1.5G & AM-1","w":648,"v":1.21},{"s":"AM-1.5G & AM-1","w":650,"v":1.23},{"s":"AM-1.5G & AM-1","w":653,"v":1.08},{"s":"AM-1.5G & AM-1","w":655,"v":1.18},{"s":"AM-1.5G & AM-1","w":658,"v":1.22},{"s":"AM-1.5G & AM-1","w":660,"v":1.26},{"s":"AM-1.5G & AM-1","w":663,"v":1.29},{"s":"AM-1.5G & AM-1","w":665,"v":1.23},{"s":"AM-1.5G & AM-1","w":668,"v":1.25},{"s":"AM-1.5G & AM-1","w":670,"v":1.21},{"s":"AM-1.5G & AM-1","w":672,"v":1.24},{"s":"AM-1.5G & AM-1","w":674,"v":1.20},{"s":"AM-1.5G & AM-1","w":676,"v":1.23},{"s":"AM-1.5G & AM-1","w":678,"v":1.19},{"s":"AM-1.5G & AM-1","w":680,"v":1.22},{"s":"AM-1.5G & AM-1","w":682,"v":1.15},{"s":"AM-1.5G & AM-1","w":684,"v":0.88},{"s":"AM-1.5G & AM-1","w":686,"v":1.12},{"s":"AM-1.5G & AM-1","w":688,"v":1.20},{"s":"AM-1.5G & AM-1","w":690,"v":1.18},{"s":"AM-1.5G & AM-1","w":692,"v":1.22},{"s":"AM-1.5G & AM-1","w":694,"v":1.18},{"s":"AM-1.5G & AM-1","w":696,"v":1.20},{"s":"AM-1.5G & AM-1","w":698,"v":1.17},{"s":"AM-1.5G & AM-1","w":700,"v":1.19},{"s":"AM-1.5G & AM-1","w":705,"v":1.17},{"s":"AM-1.5G & AM-1","w":710,"v":1.12},{"s":"AM-1.5G & AM-1","w":714,"v":1.05},{"s":"AM-1.5G & AM-1","w":716,"v":0.84},{"s":"AM-1.5G & AM-1","w":718,"v":1.05},{"s":"AM-1.5G & AM-1","w":720,"v":1.10},{"s":"AM-1.5G & AM-1","w":724,"v":1.12},{"s":"AM-1.5G & AM-1","w":728,"v":1.10},{"s":"AM-1.5G & AM-1","w":732,"v":1.13},{"s":"AM-1.5G & AM-1","w":736,"v":1.13},{"s":"AM-1.5G & AM-1","w":742,"v":1.15},{"s":"AM-1.5G & AM-1","w":749,"v":1.16},{"s":"AM-1.5G & AM-1","w":755,"v":1.12},{"s":"AM-1.5G & AM-1","w":758,"v":0.90},{"s":"AM-1.5G & AM-1","w":760,"v":0.146},{"s":"AM-1.5G & AM-1","w":763,"v":0.25},{"s":"AM-1.5G & AM-1","w":765,"v":0.36},{"s":"AM-1.5G & AM-1","w":768,"v":0.80},{"s":"AM-1.5G & AM-1","w":773,"v":1.02},{"s":"AM-1.5G & AM-1","w":780,"v":1.03},{"s":"AM-1.5G & AM-1","w":787,"v":1.01},{"s":"AM-1.5G & AM-1","w":793,"v":1.01},{"s":"AM-1.5G & AM-1","w":800,"v":1.00},{"s":"AM-1.5G & AM-1","w":806,"v":0.99},{"s":"AM-1.5G & AM-1","w":814,"v":0.98},{"s":"AM-1.5G & AM-1","w":816,"v":0.85},{"s":"AM-1.5G & AM-1","w":818,"v":0.77},{"s":"AM-1.5G & AM-1","w":821,"v":0.88},{"s":"AM-1.5G & AM-1","w":824,"v":0.70},{"s":"AM-1.5G & AM-1","w":826,"v":0.63},{"s":"AM-1.5G & AM-1","w":829,"v":0.82},{"s":"AM-1.5G & AM-1","w":833,"v":0.90},{"s":"AM-1.5G & AM-1","w":838,"v":0.92},{"s":"AM-1.5G & AM-1","w":842,"v":0.92},{"s":"AM-1.5G & AM-1","w":848,"v":0.88},{"s":"AM-1.5G & AM-1","w":852,"v":0.90},{"s":"AM-1.5G & AM-1","w":858,"v":0.81},{"s":"AM-1.5G & AM-1","w":862,"v":0.88},{"s":"AM-1.5G & AM-1","w":868,"v":0.87},{"s":"AM-1.5G & AM-1","w":874,"v":0.85},{"s":"AM-1.5G & AM-1","w":883,"v":0.86},{"s":"AM-1.5G & AM-1","w":890,"v":0.80},{"s":"AM-1.5G & AM-1","w":895,"v":0.75},{"s":"AM-1.5G & AM-1","w":899,"v":0.71},{"s":"AM-1.5G & AM-1","w":902,"v":0.58},{"s":"AM-1.5G & AM-1","w":903,"v":0.52},{"s":"AM-1.5G & AM-1","w":906,"v":0.60},{"s":"AM-1.5G & AM-1","w":910,"v":0.62},{"s":"AM-1.5G & AM-1","w":915,"v":0.60},{"s":"AM-1.5G & AM-1","w":920,"v":0.58},{"s":"AM-1.5G & AM-1","w":924,"v":0.55},{"s":"AM-1.5G & AM-1","w":927,"v":0.50},{"s":"AM-1.5G & AM-1","w":929,"v":0.30},{"s":"AM-1.5G & AM-1","w":931,"v":0.146},{"s":"AM-1.5G & AM-1","w":934,"v":0.30},{"s":"AM-1.5G & AM-1","w":937,"v":0.20},{"s":"AM-1.5G & AM-1","w":939,"v":0.25},{"s":"AM-1.5G & AM-1","w":942,"v":0.18},{"s":"AM-1.5G & AM-1","w":945,"v":0.28},{"s":"AM-1.5G & AM-1","w":947,"v":0.13},{"s":"AM-1.5G & AM-1","w":950,"v":0.25},{"s":"AM-1.5G & AM-1","w":953,"v":0.30},{"s":"AM-1.5G & AM-1","w":956,"v":0.36},{"s":"AM-1.5G & AM-1","w":960,"v":0.45},{"s":"AM-1.5G & AM-1","w":964,"v":0.54},{"s":"AM-1.5G & AM-1","w":968,"v":0.60},{"s":"AM-1.5G & AM-1","w":972,"v":0.64},{"s":"AM-1.5G & AM-1","w":980,"v":0.68},{"s":"AM-1.5G & AM-1","w":988,"v":0.71},{"s":"AM-1.5G & AM-1","w":996,"v":0.70},{"s":"AM-1.5G & AM-1","w":1004,"v":0.68},{"s":"AM-1.5G & AM-1","w":1020,"v":0.66},{"s":"AM-1.5G & AM-1","w":1039,"v":0.63},{"s":"AM-1.5G & AM-1","w":1060,"v":0.60},{"s":"AM-1.5G & AM-1","w":1080,"v":0.57},{"s":"AM-1.5G & AM-1","w":1090,"v":0.52},{"s":"AM-1.5G & AM-1","w":1096,"v":0.48},{"s":"AM-1.5G & AM-1","w":1100,"v":0.44},{"s":"AM-1.5G & AM-1","w":1106,"v":0.35},{"s":"AM-1.5G & AM-1","w":1112,"v":0.25},{"s":"AM-1.5G & AM-1","w":1116,"v":0.18},{"s":"AM-1.5G & AM-1","w":1120,"v":0.13},{"s":"AM-1.5G & AM-1","w":1124,"v":0.08},{"s":"AM-1.5G & AM-1","w":1128,"v":0.03},{"s":"AM-1.5G & AM-1","w":1132,"v":0.10},{"s":"AM-1.5G & AM-1","w":1136,"v":0.19},{"s":"AM-1.5G & AM-1","w":1140,"v":0.15},{"s":"AM-1.5G & AM-1","w":1144,"v":0.11},{"s":"AM-1.5G & AM-1","w":1148,"v":0.22},{"s":"AM-1.5G & AM-1","w":1153,"v":0.30},{"s":"AM-1.5G & AM-1","w":1157,"v":0.28},{"s":"AM-1.5G & AM-1","w":1161,"v":0.34},{"s":"AM-1.5G & AM-1","w":1165,"v":0.37},{"s":"AM-1.5G & AM-1","w":1169,"v":0.40},{"s":"AM-1.5G & AM-1","w":1175,"v":0.38},{"s":"AM-1.5G & AM-1","w":1180,"v":0.44},{"s":"AM-1.5G & AM-1","w":1185,"v":0.45},{"s":"AM-1.5G & AM-1","w":1190,"v":0.43},{"s":"AM-1.5G & AM-1","w":1195,"v":0.47},{"s":"AM-1.5G & AM-1","w":1201,"v":0.46},{"s":"AM-1.5G & AM-1","w":1208,"v":0.44},{"s":"AM-1.5G & AM-1","w":1214,"v":0.46},{"s":"AM-1.5G & AM-1","w":1218,"v":0.44},{"s":"AM-1.5G & AM-1","w":1225,"v":0.45},{"s":"AM-1.5G & AM-1","w":1232,"v":0.43},{"s":"AM-1.5G & AM-1","w":1241,"v":0.42},{"s":"AM-1.5G & AM-1","w":1250,"v":0.40},{"s":"AM-1.5G & AM-1","w":1258,"v":0.39},{"s":"AM-1.5G & AM-1","w":1262,"v":0.33},{"s":"AM-1.5G & AM-1","w":1266,"v":0.25},{"s":"AM-1.5G & AM-1","w":1270,"v":0.38},{"s":"AM-1.5G & AM-1","w":1274,"v":0.41},{"s":"AM-1.5G & AM-1","w":1280,"v":0.40},{"s":"AM-1.5G & AM-1","w":1286,"v":0.37},{"s":"AM-1.5G & AM-1","w":1294,"v":0.34},{"s":"AM-1.5G & AM-1","w":1302,"v":0.31},{"s":"AM-1.5G & AM-1","w":1310,"v":0.29},{"s":"AM-1.5G & AM-1","w":1318,"v":0.26},{"s":"AM-1.5G & AM-1","w":1324,"v":0.22},{"s":"AM-1.5G & AM-1","w":1330,"v":0.16},{"s":"AM-1.5G & AM-1","w":1336,"v":0.10},{"s":"AM-1.5G & AM-1","w":1342,"v":0.03},{"s":"AM-1.5G & AM-1","w":1346,"v":0},{"s":"AM-1.5G & AM-1","w":1395,"v":0},{"s":"AM-1.5G & AM-1","w":1400,"v":0.02},{"s":"AM-1.5G & AM-1","w":1404,"v":0},{"s":"AM-1.5G & AM-1","w":1408,"v":0.05},{"s":"AM-1.5G & AM-1","w":1411,"v":0.02},{"s":"AM-1.5G & AM-1","w":1415,"v":0.065},{"s":"AM-1.5G & AM-1","w":1419,"v":0.03},{"s":"AM-1.5G & AM-1","w":1423,"v":0.09},{"s":"AM-1.5G & AM-1","w":1427,"v":0.05},{"s":"AM-1.5G & AM-1","w":1431,"v":0.12},{"s":"AM-1.5G & AM-1","w":1435,"v":0.07},{"s":"AM-1.5G & AM-1","w":1439,"v":0.135},{"s":"AM-1.5G & AM-1","w":1443,"v":0.08},{"s":"AM-1.5G & AM-1","w":1448,"v":0.157},{"s":"AM-1.5G & AM-1","w":1452,"v":0.10},{"s":"AM-1.5G & AM-1","w":1456,"v":0.065},{"s":"AM-1.5G & AM-1","w":1460,"v":0.12},{"s":"AM-1.5G & AM-1","w":1464,"v":0.146},{"s":"AM-1.5G & AM-1","w":1468,"v":0.10},{"s":"AM-1.5G & AM-1","w":1472,"v":0.087},{"s":"AM-1.5G & AM-1","w":1476,"v":0.15},{"s":"AM-1.5G & AM-1","w":1480,"v":0.18},{"s":"AM-1.5G & AM-1","w":1484,"v":0.13},{"s":"AM-1.5G & AM-1","w":1488,"v":0.18},{"s":"AM-1.5G & AM-1","w":1492,"v":0.10},{"s":"AM-1.5G & AM-1","w":1496,"v":0.17},{"s":"AM-1.5G & AM-1","w":1500,"v":0.22},{"s":"AM-1.5G & AM-1","w":1504,"v":0.25},{"s":"AM-1.5G & AM-1","w":1510,"v":0.255},{"s":"AM-1.5G & AM-1","w":1516,"v":0.26},{"s":"AM-1.5G & AM-1","w":1522,"v":0.265},{"s":"AM-1.5G & AM-1","w":1529,"v":0.279},{"s":"AM-1.5G & AM-1","w":1535,"v":0.27},{"s":"AM-1.5G & AM-1","w":1541,"v":0.275},{"s":"AM-1.5G & AM-1","w":1547,"v":0.265},{"s":"AM-1.5G & AM-1","w":1553,"v":0.275},{"s":"AM-1.5G & AM-1","w":1560,"v":0.255},{"s":"AM-1.5G & AM-1","w":1565,"v":0.27},{"s":"AM-1.5G & AM-1","w":1569,"v":0.24},{"s":"AM-1.5G & AM-1","w":1577,"v":0.26},{"s":"AM-1.5G & AM-1","w":1585,"v":0.25},{"s":"AM-1.5G & AM-1","w":1590,"v":0.245},{"s":"AM-1.5G & AM-1","w":1600,"v":0.24},{"s":"AM-1.5G & AM-1","w":1610,"v":0.24},{"s":"AM-1.5G & AM-1","w":1620,"v":0.235},{"s":"AM-1.5G & AM-1","w":1630,"v":0.24},{"s":"AM-1.5G & AM-1","w":1634,"v":0.23},{"s":"AM-1.5G & AM-1","w":1645,"v":0.225},{"s":"AM-1.5G & AM-1","w":1652,"v":0.21},{"s":"AM-1.5G & AM-1","w":1658,"v":0.22},{"s":"AM-1.5G & AM-1","w":1665,"v":0.195},{"s":"AM-1.5G & AM-1","w":1668,"v":0.215},{"s":"AM-1.5G & AM-1","w":1680,"v":0.21},{"s":"AM-1.5G & AM-1","w":1691,"v":0.205},{"s":"AM-1.5G & AM-1","w":1703,"v":0.195},{"s":"AM-1.5G & AM-1","w":1715,"v":0.19},{"s":"AM-1.5G & AM-1","w":1728,"v":0.18},{"s":"AM-1.5G & AM-1","w":1740,"v":0.168},{"s":"AM-1.5G & AM-1","w":1756,"v":0.146},{"s":"AM-1.5G & AM-1","w":1764,"v":0.135},{"s":"AM-1.5G & AM-1","w":1772,"v":0.112},{"s":"AM-1.5G & AM-1","w":1780,"v":0.095},{"s":"AM-1.5G & AM-1","w":1788,"v":0.074},{"s":"AM-1.5G & AM-1","w":1796,"v":0.045},{"s":"AM-1.5G & AM-1","w":1804,"v":0.018},{"s":"AM-1.5G & AM-1","w":1812,"v":0.004},{"s":"AM-1.5G & AM-1","w":1818,"v":0},{"s":"AM-1.5G & AM-1","w":1940,"v":0},{"s":"AM-1.5G & AM-1","w":1950,"v":0.004},{"s":"AM-1.5G & AM-1","w":1960,"v":0.02},{"s":"AM-1.5G & AM-1","w":1966,"v":0.05},{"s":"AM-1.5G & AM-1","w":1976,"v":0.07},{"s":"AM-1.5G & AM-1","w":1986,"v":0.085},{"s":"AM-1.5G & AM-1","w":1994,"v":0.07},{"s":"AM-1.5G & AM-1","w":1998,"v":0.006},{"s":"AM-1.5G & AM-1","w":2006,"v":0.03},{"s":"AM-1.5G & AM-1","w":2015,"v":0.055},{"s":"AM-1.5G & AM-1","w":2023,"v":0.076},{"s":"AM-1.5G & AM-1","w":2035,"v":0.096},{"s":"AM-1.5G & AM-1","w":2047,"v":0.082},{"s":"AM-1.5G & AM-1","w":2055,"v":0.058},{"s":"AM-1.5G & AM-1","w":2067,"v":0.076},{"s":"AM-1.5G & AM-1","w":2077,"v":0.088},{"s":"AM-1.5G & AM-1","w":2087,"v":0.093},{"s":"AM-1.5G & AM-1","w":2100,"v":0.094},{"s":"AM-1.5G & AM-1","w":2120,"v":0.093},{"s":"AM-1.5G & AM-1","w":2135,"v":0.09},{"s":"AM-1.5G & AM-1","w":2152,"v":0.085},{"s":"AM-1.5G & AM-1","w":2160,"v":0.08},{"s":"AM-1.5G & AM-1","w":2170,"v":0.085},{"s":"AM-1.5G & AM-1","w":2190,"v":0.08},{"s":"AM-1.5G & AM-1","w":2210,"v":0.078},{"s":"AM-1.5G & AM-1","w":2233,"v":0.076},{"s":"AM-1.5G & AM-1","w":2250,"v":0.073},{"s":"AM-1.5G & AM-1","w":2274,"v":0.07},{"s":"AM-1.5G & AM-1","w":2290,"v":0.066},{"s":"AM-1.5G & AM-1","w":2300,"v":0.062},{"s":"AM-1.5G & AM-1","w":2314,"v":0.059},{"s":"AM-1.5G & AM-1","w":2330,"v":0.056},{"s":"AM-1.5G & AM-1","w":2340,"v":0.05},{"s":"AM-1.5G & AM-1","w":2355,"v":0.053},{"s":"AM-1.5G & AM-1","w":2365,"v":0.045},{"s":"AM-1.5G & AM-1","w":2379,"v":0.041},{"s":"AM-1.5G & AM-1","w":2388,"v":0.048},{"s":"AM-1.5G & AM-1","w":2395,"v":0.035},{"s":"AM-1.5G & AM-1","w":2403,"v":0.03},{"s":"AM-1.5G & AM-1","w":2412,"v":0.04},{"s":"AM-1.5G & AM-1","w":2420,"v":0.028},{"s":"AM-1.5G & AM-1","w":2428,"v":0.041},{"s":"AM-1.5G & AM-1","w":2436,"v":0.017},{"s":"AM-1.5G & AM-1","w":2444,"v":0.035},{"s":"AM-1.5G & AM-1","w":2452,"v":0.035},{"s":"AM-1.5G & AM-1","w":2460,"v":0.022},{"s":"AM-1.5G & AM-1","w":2468,"v":0.017},{"s":"AM-1.5G & AM-1","w":2476,"v":0.02},{"s":"AM-1.5G & AM-1","w":2484,"v":0.01},{"s":"AM-1.5G & AM-1","w":2492,"v":0.003},{"s":"AM-1.5G & AM-1","w":2500,"v":0.002}
      ]},
      "mark": {"type": "line", "strokeWidth": 1.2, "clip": true},
      "encoding": {
        "y": {
          "field": "v", "type": "quantitative",
          "scale": {"domain": [0, 2.307], "nice": false},
          "axis": {
            "values": [0, 0.5, 1, 1.5, 2], "format": "~g",
            "title": "Spectral Irradiance W/m²nm¹", "grid": true, "gridDash": [4, 3], "gridColor": "#222", "gridOpacity": 1, "gridWidth": 1,
            "domainColor": "#222", "domainWidth": 1.5, "ticks": false,
            "labelFontSize": 29, "labelPadding": 7, "labelColor": "#111",
            "titleFontSize": 29, "titleFontWeight": "normal", "titlePadding": 10, "titleColor": "#111"
          }
        },
        "color": {
          "field": "s", "type": "nominal",
          "scale": {"domain": ["AM-0", "AM-1.5D", "AM-1.5G & AM-1"], "range": ["#0000ff", "#000000", "#00ff00"]},
          "legend": {
            "title": null, "orient": "none", "legendX": 720, "legendY": 12,
            "symbolType": "stroke", "symbolSize": 3481, "symbolStrokeWidth": 1.5,
            "labelFontSize": 28, "labelColor": "#111", "labelOffset": 5, "labelLimit": 400,
            "padding": 11, "rowPadding": 5, "clipHeight": 30,
            "strokeColor": "#333", "fillColor": "white"
          }
        }
      }
    },
    {
      "data": {"values": [{"w": 390}, {"w": 700}]},
      "mark": {"type": "rule", "color": "#ff2a2a", "strokeWidth": 1.5},
      "encoding": {}
    }
  ]
}
